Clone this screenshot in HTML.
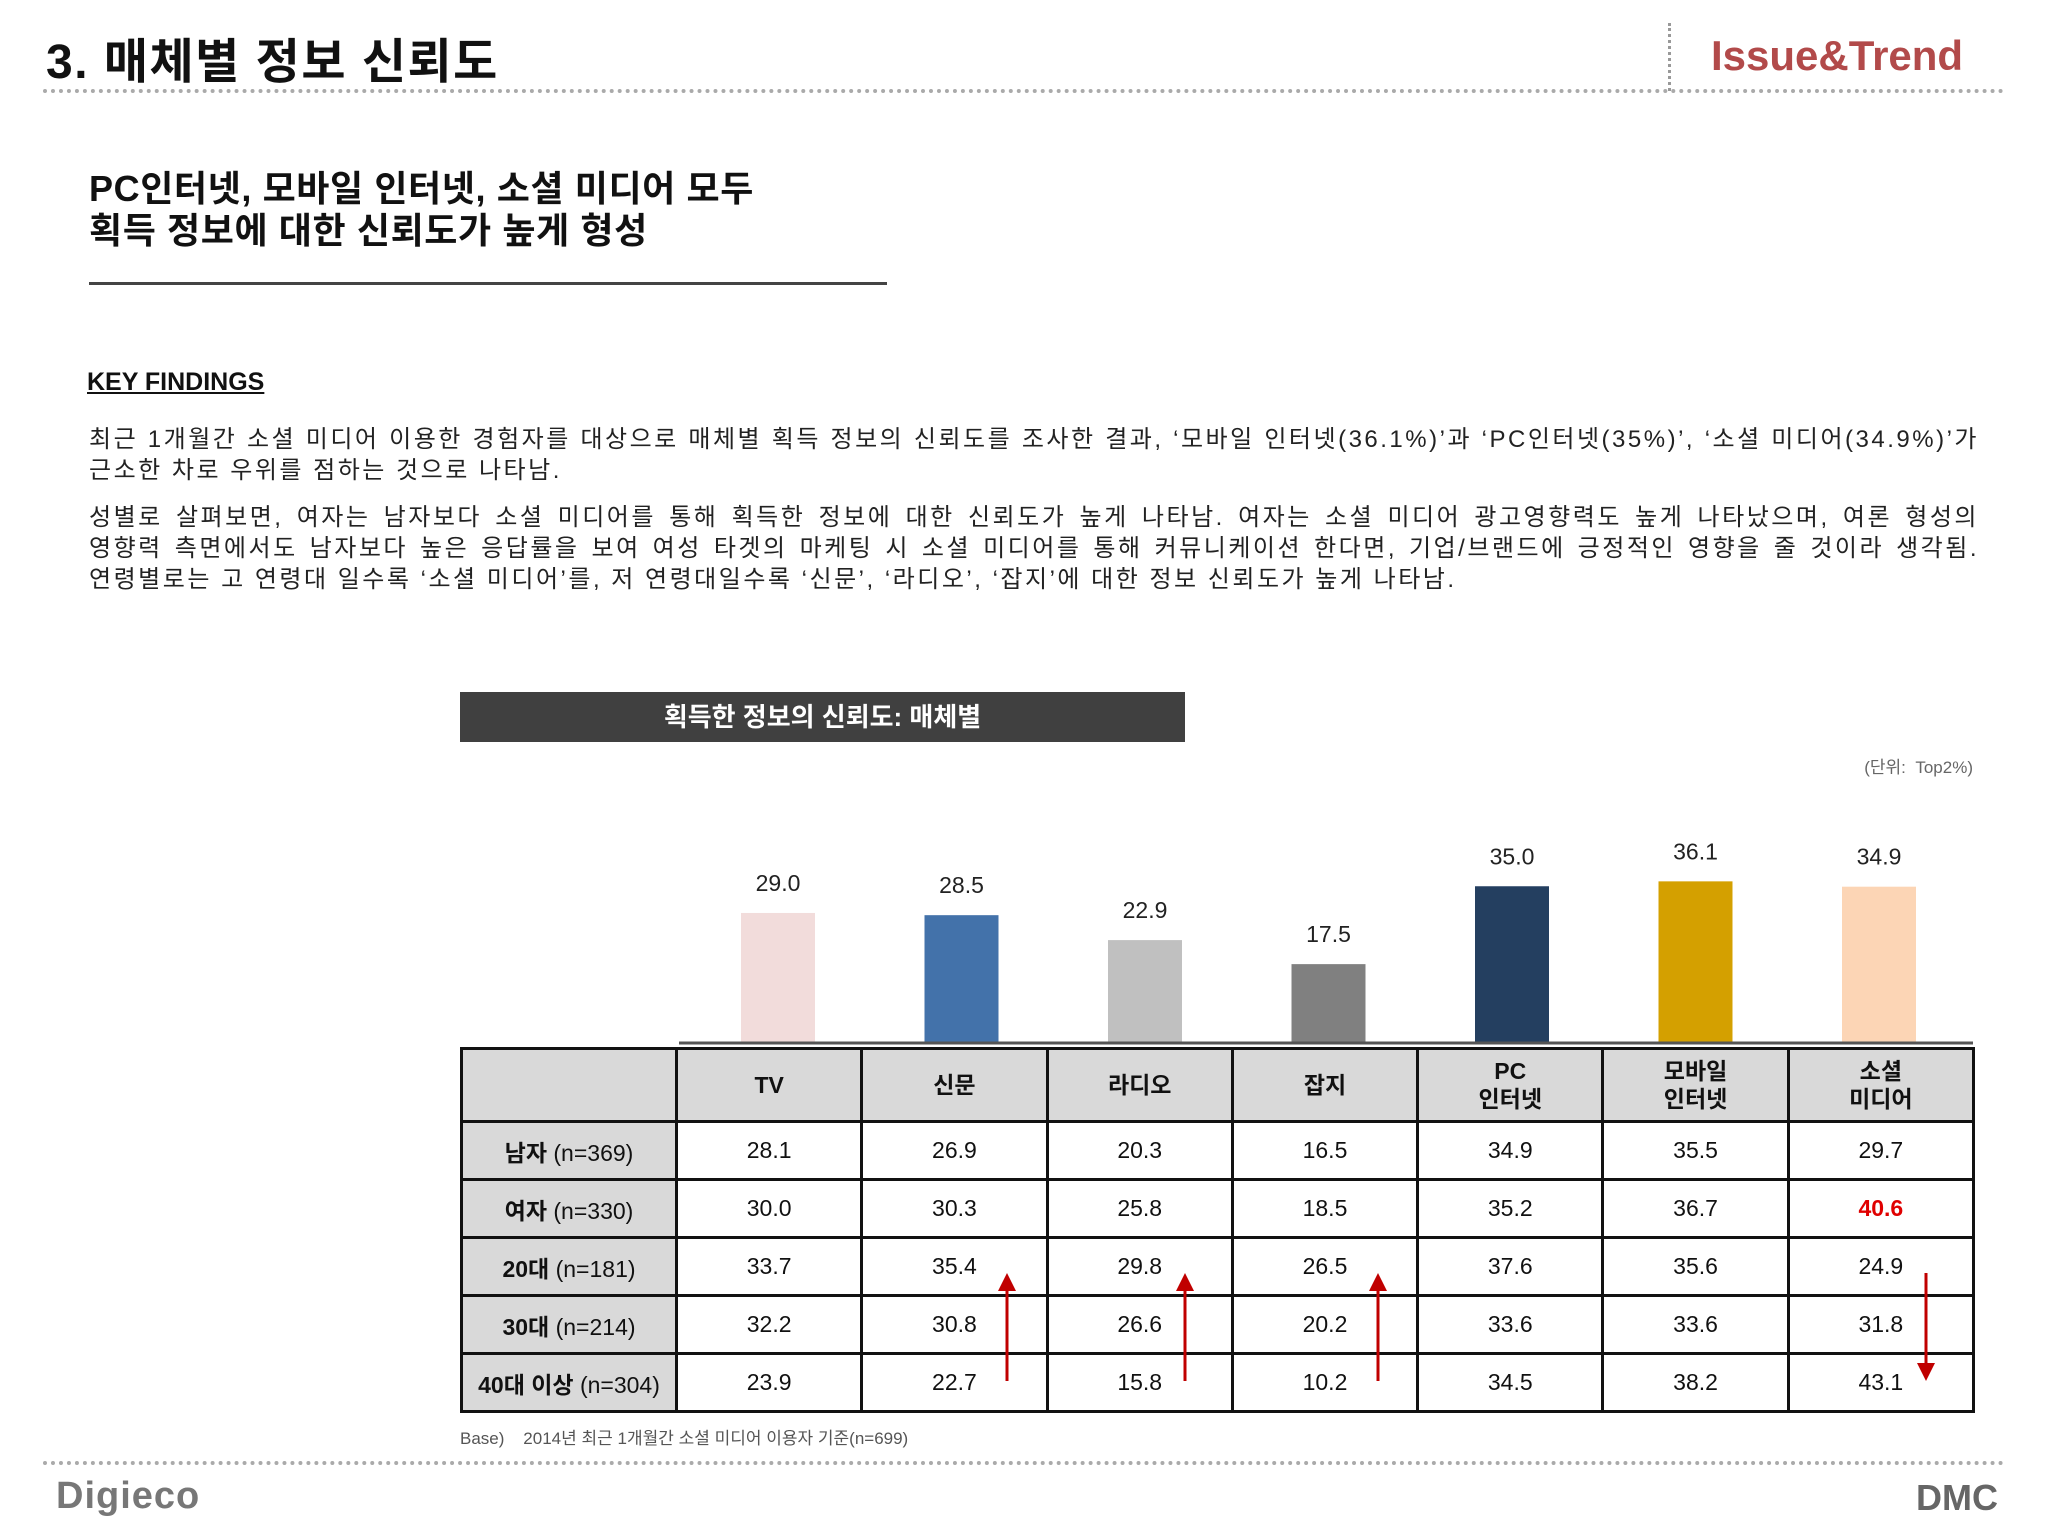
<!DOCTYPE html>
<html><head><meta charset="utf-8">
<style>
body{margin:0;width:2048px;height:1536px;position:relative;background:#fff;font-family:"Liberation Sans","Noto Sans CJK KR",sans-serif;color:#111;overflow:hidden}
.a{position:absolute}
.dots{position:absolute;height:0;border-top:4px dotted #aaa}
.ln{text-align:justify;text-align-last:justify;white-space:nowrap;letter-spacing:2.5px}
.ln.last{text-align-last:left}
table{position:absolute;left:460px;top:1047px;width:1515px;height:366px;border-collapse:collapse;table-layout:fixed}
td{border:3px solid #111;text-align:center;font-size:23px;padding:0}
tr.h td{background:#d9d9d9;font-weight:bold;height:70px;line-height:28px}
td.f{background:#d9d9d9;font-weight:bold}
td.f span{font-weight:normal}
</style></head><body>
<div class="a" style="left:46px;top:22px;font-size:48px;font-weight:bold;letter-spacing:1.5px">3. 매체별 정보 신뢰도</div>
<div class="dots" style="left:43px;top:89px;width:1962px"></div>
<div class="a" style="left:1668px;top:23px;height:68px;border-left:3px dotted #999"></div>
<div class="a" style="left:1711px;top:32px;font-size:42px;font-weight:bold;color:#b24a4a">Issue&amp;Trend</div>
<div class="a" style="left:89px;top:168px;font-size:36px;font-weight:bold;line-height:42px;letter-spacing:0.6px">PC인터넷, 모바일 인터넷, 소셜 미디어 모두<br>획득 정보에 대한 신뢰도가 높게 형성</div>
<div class="a" style="left:89px;top:282px;width:798px;height:3px;background:#444"></div>
<div class="a" style="left:87px;top:368px;font-size:25px;font-weight:bold;text-decoration:underline">KEY FINDINGS</div>
<div class="a" style="left:89px;top:424px;width:1890px;font-size:24px;line-height:31px;color:#222">
<div class="ln">최근 1개월간 소셜 미디어 이용한 경험자를 대상으로 매체별 획득 정보의 신뢰도를 조사한 결과, ‘모바일 인터넷(36.1%)’과 ‘PC인터넷(35%)’, ‘소셜 미디어(34.9%)’가</div>
<div class="ln last">근소한 차로 우위를 점하는 것으로 나타남.</div>
<div class="ln" style="margin-top:16px">성별로 살펴보면, 여자는 남자보다 소셜 미디어를 통해 획득한 정보에 대한 신뢰도가 높게 나타남. 여자는 소셜 미디어 광고영향력도 높게 나타났으며, 여론 형성의</div>
<div class="ln">영향력 측면에서도 남자보다 높은 응답률을 보여 여성 타겟의 마케팅 시 소셜 미디어를 통해 커뮤니케이션 한다면, 기업/브랜드에 긍정적인 영향을 줄 것이라 생각됨.</div>
<div class="ln last">연령별로는 고 연령대 일수록 ‘소셜 미디어’를, 저 연령대일수록 ‘신문’, ‘라디오’, ‘잡지’에 대한 정보 신뢰도가 높게 나타남.</div>
</div>
<div class="a" style="left:460px;top:692px;width:725px;height:50px;background:#404040;color:#fff;font-size:26px;font-weight:bold;text-align:center;line-height:50px">획득한 정보의 신뢰도: 매체별</div>
<div class="a" style="right:75px;top:753px;font-size:17px;color:#666">(단위:&nbsp; Top2%)</div>
<svg class="a" id="chart" style="left:0;top:0" width="2048" height="1536"></svg>
<table>
<colgroup><col style="width:215px"><col span="7"></colgroup>
<tr class="h"><td></td><td>TV</td><td>신문</td><td>라디오</td><td>잡지</td><td>PC<br>인터넷</td><td>모바일<br>인터넷</td><td>소셜<br>미디어</td></tr>
<tr><td class="f">남자 <span>(n=369)</span></td><td>28.1</td><td>26.9</td><td>20.3</td><td>16.5</td><td>34.9</td><td>35.5</td><td>29.7</td></tr>
<tr><td class="f">여자 <span>(n=330)</span></td><td>30.0</td><td>30.3</td><td>25.8</td><td>18.5</td><td>35.2</td><td>36.7</td><td style="color:#e00000;font-weight:bold">40.6</td></tr>
<tr><td class="f">20대 <span>(n=181)</span></td><td>33.7</td><td>35.4</td><td>29.8</td><td>26.5</td><td>37.6</td><td>35.6</td><td>24.9</td></tr>
<tr><td class="f">30대 <span>(n=214)</span></td><td>32.2</td><td>30.8</td><td>26.6</td><td>20.2</td><td>33.6</td><td>33.6</td><td>31.8</td></tr>
<tr><td class="f">40대 이상 <span>(n=304)</span></td><td>23.9</td><td>22.7</td><td>15.8</td><td>10.2</td><td>34.5</td><td>38.2</td><td>43.1</td></tr>
</table>
<svg class="a" style="left:0;top:0" width="2048" height="1536">
<defs><marker id="ah" markerWidth="6" markerHeight="6" refX="3" refY="3" orient="auto"><path d="M0,0L6,3L0,6z" fill="#c00000"/></marker></defs>
<line x1="1007" y1="1381" x2="1007" y2="1282" stroke="#c00000" stroke-width="3" marker-end="url(#ah)"/>
<line x1="1185" y1="1381" x2="1185" y2="1282" stroke="#c00000" stroke-width="3" marker-end="url(#ah)"/>
<line x1="1378" y1="1381" x2="1378" y2="1282" stroke="#c00000" stroke-width="3" marker-end="url(#ah)"/>
<line x1="1926" y1="1273" x2="1926" y2="1372" stroke="#c00000" stroke-width="3" marker-end="url(#ah)"/>
</svg>
<div class="a" style="left:460px;top:1424px;font-size:17px;color:#555">Base)&nbsp;&nbsp;&nbsp; 2014년 최근 1개월간 소셜 미디어 이용자 기준(n=699)</div>
<div class="dots" style="left:43px;top:1461px;width:1962px"></div>
<div class="a" style="left:56px;top:1475px;font-size:38px;font-weight:bold;color:#777;letter-spacing:1px">Digieco</div>
<div class="a" style="left:1916px;top:1477px;font-size:36px;font-weight:bold;color:#666">DMC</div>
<script>
const categories=["TV","신문","라디오","잡지","PC 인터넷","모바일 인터넷","소셜 미디어"];
const values=[29.0,28.5,22.9,17.5,35.0,36.1,34.9];
const labels=["29.0","28.5","22.9","17.5","35.0","36.1","34.9"];
const colors=["#f2dcdb","#4372aa","#c0c0c0","#808080","#243f60","#d4a000","#fcd5b5"];
const svg=document.getElementById('chart');
const NS='http://www.w3.org/2000/svg';
const base=1042, pxPer=4.45, x0=778, step=183.5, bw=74;
const xS=i=>x0+i*step;
const yS=v=>base-v*pxPer;
values.forEach((v,i)=>{
 const r=document.createElementNS(NS,'rect');
 
 
 r.setAttribute('x',xS(i)-bw/2);r.setAttribute('y',yS(v));
 r.setAttribute('width',bw);r.setAttribute('height',base-yS(v));
 r.setAttribute('fill',colors[i]);svg.appendChild(r);
 const t=document.createElementNS(NS,'text');
 
 
 t.setAttribute('x',xS(i));t.setAttribute('y',yS(v)-22);
 t.setAttribute('text-anchor','middle');t.setAttribute('font-size','23');
 t.setAttribute('font-family','Liberation Sans, sans-serif');t.setAttribute('fill','#222');
 t.textContent=labels[i];svg.appendChild(t);
});
const ln=document.createElementNS(NS,'line');


ln.setAttribute('x1',679);ln.setAttribute('x2',1973);ln.setAttribute('y1',base+1);ln.setAttribute('y2',base+1);
ln.setAttribute('stroke','#555');ln.setAttribute('stroke-width','3');svg.appendChild(ln);
</script>
</body></html>
